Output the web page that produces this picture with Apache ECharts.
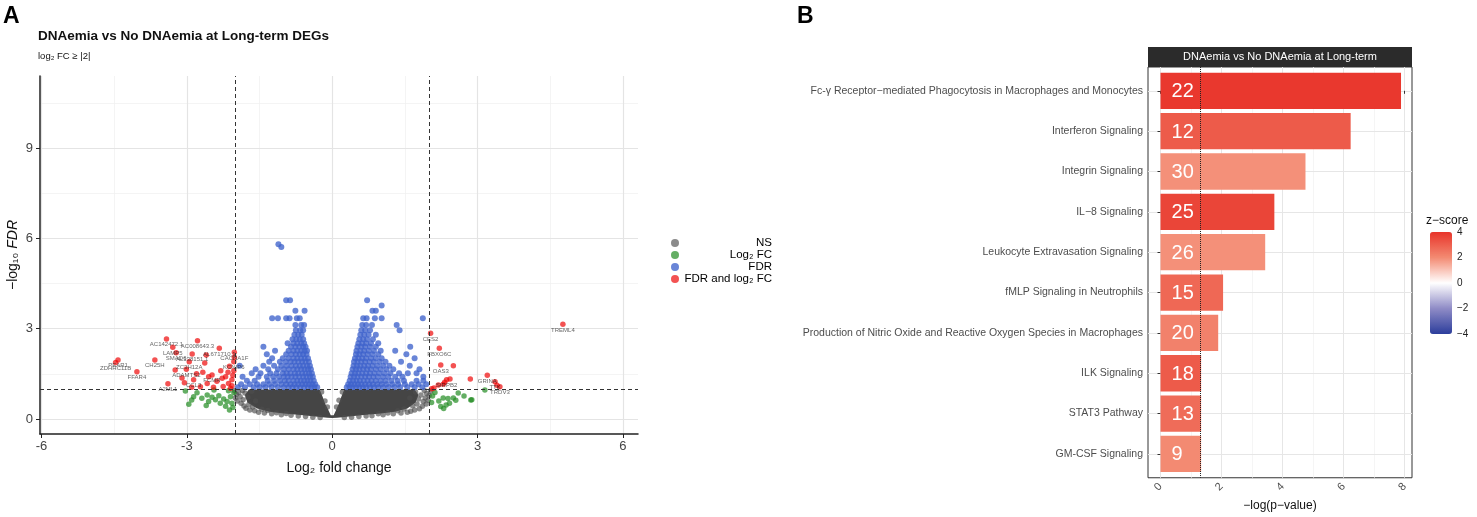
<!DOCTYPE html>
<html lang="en">
<head>
  <meta charset="UTF-8">
  <title>DNAemia volcano + IPA pathways</title>
  <style>
    html, body { margin: 0; padding: 0; background: #fff; }
    #chart { width: 1477px; height: 517px; }
  </style>
  <script src="https://cdn.jsdelivr.net/npm/echarts@6.0.0/dist/echarts.min.js"></script>
</head>
<body>
<div id="chart"></div>
<script>
// ---- panel A : volcano plot ----
const xTicksA = [-6, -3, 0, 3, 6];
const xMinorA = [-4.5, -1.5, 1.5, 4.5];
const yTicksA = [0, 3, 6, 9];
const yMinorA = [1.5, 4.5, 7.5, 10.5];
const fcCut = 2;
const fdrCut = 1;

// outline of the solid mass of non-significant genes
const grayOutline = [
  [-1.72, 0.98], [-0.26, 0.98], [-0.2, 0.75], [-0.15, 0.52], [-0.08, 0.3], [-0.03, 0.12],
  [0.03, 0.12], [0.08, 0.3], [0.14, 0.52], [0.19, 0.75], [0.25, 0.98], [1.7, 0.98],
  [1.78, 0.8], [1.72, 0.55], [1.55, 0.35], [1.3, 0.24], [1.0, 0.18], [0.6, 0.12],
  [0.3, 0.07], [0.1, 0.04], [0, 0.03], [-0.1, 0.04], [-0.3, 0.07], [-0.6, 0.12],
  [-1.0, 0.18], [-1.3, 0.24], [-1.55, 0.35], [-1.75, 0.55], [-1.8, 0.8]
];
// NS points around the edge of that mass
const grayPoints = [
  [-2.02, 0.95], [-1.98, 0.82], [-2.0, 0.7], [-1.96, 0.6], [-1.93, 0.88], [-1.9, 0.74], [-1.88, 0.52],
  [-1.85, 0.95], [-1.84, 0.64], [-1.82, 0.43], [-1.8, 0.86], [-1.78, 0.36], [-1.74, 0.72], [-1.72, 0.48],
  [-1.7, 0.3], [-1.66, 0.92], [-1.64, 0.4], [-1.6, 0.27], [-1.58, 0.6], [-1.52, 0.22], [-1.45, 0.32],
  [-1.4, 0.2], [-1.33, 0.28], [-1.25, 0.17], [-1.15, 0.21], [-1.05, 0.14], [-0.95, 0.18], [-0.85, 0.12],
  [-0.7, 0.1], [-0.55, 0.08], [-0.4, 0.06], [-0.25, 0.05], [-0.22, 0.9], [-0.15, 0.6], [-0.1, 0.4],
  [2.03, 0.92], [2.0, 0.78], [1.98, 0.62], [1.95, 0.85], [1.94, 0.5], [1.92, 0.7], [1.9, 0.95],
  [1.88, 0.58], [1.86, 0.42], [1.83, 0.8], [1.8, 0.34], [1.78, 0.66], [1.75, 0.5], [1.72, 0.9],
  [1.7, 0.3], [1.66, 0.44], [1.62, 0.26], [1.6, 0.7], [1.55, 0.22], [1.48, 0.33], [1.42, 0.2],
  [1.35, 0.27], [1.26, 0.17], [1.15, 0.2], [1.05, 0.14], [0.95, 0.17], [0.82, 0.11], [0.7, 0.1],
  [0.55, 0.08], [0.4, 0.06], [0.25, 0.05], [0.21, 0.9], [0.14, 0.62], [0.09, 0.4]
];
// FDR-only genes, by rows of -log10 FDR
const blueRows = [
  [1.05, [-1.95, -1.8, -1.62, -1.5, -1.38, -1.25, -1.12, -1.0, -0.9, -0.82, -0.74, -0.66, -0.58, -0.5, -0.43, -0.37, -0.31,
          0.3, 0.36, 0.42, 0.49, 0.56, 0.63, 0.7, 0.78, 0.86, 0.95, 1.05, 1.16, 1.28, 1.4, 1.55, 1.7, 1.86]],
  [1.15, [-1.88, -1.7, -1.55, -1.42, -1.3, -1.18, -1.05, -0.95, -0.86, -0.78, -0.7, -0.62, -0.55, -0.48, -0.41, -0.35,
          0.33, 0.39, 0.46, 0.53, 0.6, 0.68, 0.76, 0.84, 0.93, 1.02, 1.12, 1.24, 1.36, 1.5, 1.64, 1.78, 1.94]],
  [1.27, [-1.76, -1.6, -1.33, -1.2, -1.08, -0.98, -0.9, -0.8, -0.72, -0.65, -0.58, -0.51, -0.45, -0.38,
          0.36, 0.43, 0.5, 0.57, 0.65, 0.73, 0.81, 0.9, 1.0, 1.1, 1.22, 1.35, 1.48, 1.74, 1.88]],
  [1.4, [-1.85, -1.52, -1.35, -1.22, -1.1, -1.0, -0.92, -0.84, -0.76, -0.68, -0.6, -0.53, -0.46, -0.4,
         0.38, 0.45, 0.52, 0.6, 0.68, 0.76, 0.85, 0.94, 1.05, 1.16, 1.3, 1.45, 1.88]],
  [1.52, [-1.66, -1.48, -1.28, -1.15, -1.02, -0.94, -0.86, -0.77, -0.7, -0.62, -0.55, -0.48, -0.42,
          0.4, 0.47, 0.54, 0.62, 0.7, 0.78, 0.87, 0.97, 1.08, 1.2, 1.38, 1.56, 1.74]],
  [1.65, [-1.58, -1.32, -1.12, -1.0, -0.9, -0.8, -0.72, -0.64, -0.57, -0.5, -0.44,
          0.42, 0.49, 0.56, 0.64, 0.72, 0.8, 0.9, 1.0, 1.12, 1.26, 1.8]],
  [1.77, [-1.91, -1.42, -1.2, -1.05, -0.94, -0.84, -0.75, -0.67, -0.6, -0.52, -0.46,
          0.44, 0.51, 0.58, 0.66, 0.74, 0.83, 0.93, 1.05, 1.18, 1.6]],
  [1.9, [-1.3, -1.08, -0.96, -0.86, -0.78, -0.7, -0.62, -0.55, -0.48, 0.45, 0.52, 0.6, 0.68, 0.77, 0.86, 0.98, 1.1, 1.42]],
  [2.02, [-1.24, -1.02, -0.9, -0.8, -0.72, -0.64, -0.57, -0.5, 0.47, 0.54, 0.62, 0.7, 0.8, 0.9, 1.02, 1.7]],
  [2.15, [-1.35, -0.95, -0.84, -0.75, -0.67, -0.6, -0.53, 0.49, 0.56, 0.64, 0.73, 0.83, 0.95, 1.53]],
  [2.27, [-1.18, -0.9, -0.8, -0.72, -0.64, -0.57, -0.52, 0.5, 0.58, 0.66, 0.75, 0.86, 1.0, 1.3]],
  [2.4, [-1.42, -0.85, -0.76, -0.68, -0.6, -0.55, 0.52, 0.6, 0.68, 0.78, 0.9, 1.61]],
  [2.52, [-0.92, -0.8, -0.72, -0.64, -0.58, 0.54, 0.62, 0.7, 0.8, 0.95]],
  [2.65, [-0.82, -0.74, -0.67, -0.6, 0.56, 0.64, 0.72, 0.84]],
  [2.8, [-0.78, -0.7, -0.63, 0.58, 0.66, 0.75, 0.9]],
  [2.95, [-0.75, -0.66, -0.6, 0.6, 0.68, 0.78, 1.39]],
  [3.12, [-0.76, -0.64, -0.58, 0.62, 0.7, 0.82, 1.33]],
  [3.35, [-1.24, -1.12, -0.95, -0.88, -0.73, -0.67, 0.64, 0.71, 0.88, 1.02, 1.87]],
  [3.6, [-0.76, -0.57, 0.83, 0.9]],
  [3.77, [1.02]],
  [3.95, [-0.95, -0.87, 0.72]],
  [5.72, [-1.05]],
  [5.81, [-1.11]]
];
// log2 FC-only genes
const greenPoints = [
  [-3.03, 0.93], [-2.96, 0.49], [-2.86, 0.74], [-2.79, 0.87], [-2.69, 0.69], [-2.58, 0.8], [-2.48, 0.72],
  [-2.41, 0.64], [-2.34, 0.77], [-2.24, 0.66], [-2.17, 0.58], [-2.1, 0.74], [-2.07, 0.52], [-2.31, 0.52],
  [-2.9, 0.63], [-2.55, 0.58], [-2.03, 0.88], [-2.14, 0.94], [-2.44, 0.96], [-2.2, 0.42], [-2.05, 0.38],
  [-2.6, 0.45], [-2.12, 0.3],
  [2.24, 0.41], [2.35, 0.46], [2.42, 0.52], [2.5, 0.7], [2.6, 0.86], [2.72, 0.76], [2.86, 0.63],
  [2.88, 0.64], [3.15, 0.96], [2.29, 0.7], [2.07, 0.76], [2.39, 0.68], [2.05, 0.55], [2.12, 0.88],
  [2.2, 0.6], [2.3, 0.35], [2.55, 0.62]
];
// FDR and log2 FC genes, third field = label
const redPoints = [
  [-3.42, 2.66, 'AC142472.1'], [-2.78, 2.6, 'AC008643.3'], [-3.29, 2.38, 'LAMP5'], [-3.22, 2.2, 'SMAD6'],
  [-2.33, 2.35, 'AL671710.1'], [-2.89, 2.16, 'AL138151.1'], [-2.02, 2.22, 'CACNA1F'],
  [-4.42, 1.96, 'PEAR1'], [-4.47, 1.88, 'ZDHHC11B'], [-3.66, 1.96, 'CH25H'], [-4.03, 1.57, 'FFAR4'],
  [-3.39, 1.17, 'A2ML1'], [-2.03, 1.9, 'KCNIP6'], [-2.95, 1.9, 'ZC3H12A'], [-3.01, 1.65, 'ADAMTS2'],
  [-2.86, 1.3, 'CCL3'], [-2.48, 1.46, 'FCMR'],
  [-2.67, 1.55], [-2.27, 1.35], [-2.2, 1.4], [-2.07, 1.3], [-2.03, 1.6], [-2.14, 1.18], [-2.07, 1.1],
  [-2.58, 1.18], [-2.38, 1.25], [-3.1, 1.36], [-2.72, 1.07], [-3.24, 1.63], [-2.63, 1.86], [-2.1, 1.02],
  [-2.25, 1.08], [-2.45, 1.05], [-2.9, 1.05], [-2.05, 1.45], [-2.15, 1.55], [-2.3, 1.6], [-2.55, 1.4],
  [-2.8, 1.5], [-3.05, 1.2], [-2.02, 2.05], [-2.12, 1.75], [-2.6, 2.13],
  [4.76, 3.15, 'TREML4'], [2.03, 2.85, 'CES2'], [2.21, 2.35, 'FBXO6C'], [2.24, 1.79, 'OAS3'],
  [3.2, 1.45, 'GRINA'], [3.36, 1.24, 'TTK'], [3.46, 1.07, 'TRDV3'], [2.36, 1.3, 'SIRPB2'],
  [2.5, 1.77], [2.85, 1.33], [2.43, 1.33], [2.29, 1.15], [2.19, 1.13], [2.1, 1.03], [2.05, 1.0],
  [3.4, 1.12], [2.32, 1.22]
];

// ---- panel B : canonical pathways ----
const pathways = [
  'Fc-γ Receptor−mediated Phagocytosis in Macrophages and Monocytes',
  'Interferon Signaling',
  'Integrin Signaling',
  'IL−8 Signaling',
  'Leukocyte Extravasation Signaling',
  'fMLP Signaling in Neutrophils',
  'Production of Nitric Oxide and Reactive Oxygen Species in Macrophages',
  'ILK Signaling',
  'STAT3 Pathway',
  'GM-CSF Signaling'
];
const logP = [7.88, 6.23, 4.75, 3.73, 3.43, 2.05, 1.89, 1.33, 1.33, 1.33];
const zScores = [3.9, 3.1, 1.9, 3.6, 1.9, 2.8, 2.2, 3.1, 2.7, 2.0];
const geneCounts = [22, 12, 30, 25, 26, 15, 20, 18, 13, 9];
const xTicksB = [0, 2, 4, 6, 8];
const xMinorB = [1, 3, 5, 7];
const pCut = 1.3;
const zTicks = [4, 2, 0, -2, -4];

const FONT = "'Liberation Sans', Arial, sans-serif";

var bluePoints = [];
blueRows.forEach(function (r) { r[1].forEach(function (x) { bluePoints.push([x, r[0]]); }); });

function gridLines(list, key, color, width) {
  return list.map(function (v) {
    var d = { lineStyle: { color: color, width: width, type: 'solid' } };
    d[key] = v;
    return d;
  });
}
var markBase = { silent: true, symbol: ['none', 'none'], label: { show: false }, animation: false };

// colorbar geometry
const cbTop = 232, cbHeight = 102, cbLeft = 1430;

var myChart = echarts.init(document.getElementById('chart'));
var option = {
  animation: false,
  textStyle: { fontFamily: FONT },
  title: [
    { text: 'A', left: 3, top: 5, padding: 0, textStyle: { fontSize: 23, fontWeight: 'bold', color: '#000', fontFamily: FONT } },
    { text: 'DNAemia vs No DNAemia at Long-term DEGs', left: 38, top: 29, padding: 0,
      textStyle: { fontSize: 13.5, fontWeight: 'bold', color: '#111', fontFamily: FONT } },
    { text: 'log₂ FC ≥ |2|', left: 38, top: 51, padding: 0,
      textStyle: { fontSize: 9.5, fontWeight: 'normal', color: '#111', fontFamily: FONT } },
    { text: 'B', left: 797, top: 5, padding: 0, textStyle: { fontSize: 23, fontWeight: 'bold', color: '#000', fontFamily: FONT } }
  ],
  legend: {
    data: ['NS', 'Log₂ FC', 'FDR', 'FDR and log₂ FC'],
    orient: 'vertical',
    left: 671, top: 237,
    padding: 0,
    itemGap: 0,
    itemWidth: 8, itemHeight: 8,
    icon: 'circle',
    selectedMode: false,
    formatter: function (n) { return '{t|' + n + '}'; },
    textStyle: {
      rich: { t: { width: 88, align: 'right', fontSize: 11.5, lineHeight: 11.5, color: '#000', fontFamily: FONT } }
    }
  },
  visualMap: {
    type: 'continuous',
    seriesIndex: 8,
    dimension: 2,
    min: -4, max: 4,
    calculable: false,
    hoverLink: false,
    left: cbLeft, top: cbTop,
    padding: 0,
    itemWidth: 22, itemHeight: cbHeight,
    inRange: { color: ['#2C3E9C', '#8F8BC6', '#FFFFFF', '#F38A72', '#E8342A'] }
  },
  grid: [
    { left: 40, top: 76, width: 598, height: 358, show: false },
    { left: 1148, top: 67, width: 264, height: 415, show: true, borderColor: '#333', borderWidth: 1 }
  ],
  xAxis: [
    {
      gridIndex: 0, type: 'value', min: -6.03, max: 6.31,
      name: 'Log₂ fold change', nameLocation: 'middle', nameGap: 27,
      nameTextStyle: { fontSize: 14, color: '#111', fontFamily: FONT },
      axisLine: { show: true, onZero: false, lineStyle: { color: '#222', width: 1.5 } },
      axisTick: { show: true, length: 4, customValues: xTicksA, lineStyle: { color: '#222' } },
      axisLabel: { customValues: xTicksA, fontSize: 13, color: '#444', margin: 6, fontFamily: FONT },
      splitLine: { show: false }
    },
    {
      gridIndex: 1, type: 'value', min: -0.41, max: 8.24,
      name: '−log(p−value)', nameLocation: 'middle', nameGap: 20,
      nameTextStyle: { fontSize: 12, color: '#111', fontFamily: FONT },
      axisLine: { show: false },
      axisTick: { show: true, length: 3, customValues: xTicksB, lineStyle: { color: '#333' } },
      axisLabel: { customValues: xTicksB, rotate: 45, fontSize: 11, color: '#4D4D4D', margin: 7, fontFamily: FONT },
      splitLine: { show: false }
    }
  ],
  yAxis: [
    {
      gridIndex: 0, type: 'value', min: -0.5, max: 11.4,
      name: '{n|−log₁₀ }{i|FDR}', nameLocation: 'middle', nameGap: 20,
      nameTextStyle: {
        rich: {
          n: { fontSize: 14, color: '#111', fontFamily: FONT },
          i: { fontSize: 14, color: '#111', fontStyle: 'italic', fontFamily: FONT }
        }
      },
      axisLine: { show: true, onZero: false, lineStyle: { color: '#222', width: 1.5 } },
      axisTick: { show: true, length: 4, customValues: yTicksA, lineStyle: { color: '#222' } },
      axisLabel: { customValues: yTicksA, fontSize: 13, color: '#444', margin: 7, fontFamily: FONT },
      splitLine: { show: false }
    },
    {
      gridIndex: 1, type: 'value', min: -0.59, max: 9.59, inverse: true,
      axisLine: { show: false },
      axisTick: { show: true, length: 3, customValues: pathways.map(function (p, i) { return i; }), lineStyle: { color: '#333' } },
      axisLabel: {
        customValues: pathways.map(function (p, i) { return i; }),
        formatter: function (v) { return pathways[Math.round(v)] || ''; },
        fontSize: 10.5, color: '#4D4D4D', margin: 5, fontFamily: FONT
      },
      splitLine: { show: false }
    }
  ],
  graphic: [
    { type: 'rect', left: 1148, top: 47, shape: { width: 264, height: 20 }, style: { fill: '#2B2B2B' }, silent: true },
    { type: 'text', x: 1280, y: 57, style: { text: 'DNAemia vs No DNAemia at Long-term', fill: '#fff', fontSize: 11,
      fontFamily: FONT, align: 'center', verticalAlign: 'middle' }, silent: true },
    { type: 'text', x: 1426, y: 221, style: { text: 'z−score', fill: '#111', fontSize: 12, fontFamily: FONT,
      align: 'left', verticalAlign: 'middle' }, silent: true }
  ].concat(zTicks.map(function (z) {
    return { type: 'text', x: cbLeft + 27, y: cbTop + (4 - z) / 8 * cbHeight,
      style: { text: z < 0 ? '−' + (-z) : String(z), fill: '#222', fontSize: 10, fontFamily: FONT, align: 'left', verticalAlign: 'middle' },
      silent: true };
  })),
  series: [
    // 0: panel A grid
    {
      type: 'scatter', xAxisIndex: 0, yAxisIndex: 0, data: [], silent: true,
      markLine: Object.assign({ z: 0, data: [].concat(
        gridLines(xMinorA, 'xAxis', '#F1F1F1', 0.8), gridLines(yMinorA, 'yAxis', '#F1F1F1', 0.8),
        gridLines(xTicksA, 'xAxis', '#E4E4E4', 1.2), gridLines(yTicksA, 'yAxis', '#E4E4E4', 1.2)) }, markBase)
    },
    // 1: dense NS mass
    {
      type: 'custom', xAxisIndex: 0, yAxisIndex: 0, data: grayOutline, silent: true, z: 2,
      renderItem: function (params, api) {
        if (params.dataIndex !== 0) return;
        return { type: 'polygon', shape: { points: grayOutline.map(function (p) { return api.coord(p); }) },
          style: { fill: '#454545' } };
      }
    },
    {
      name: 'NS', type: 'scatter', xAxisIndex: 0, yAxisIndex: 0, data: grayPoints, symbolSize: 5.5, z: 2,
      itemStyle: { color: '#4D4D4D', opacity: 0.65 }
    },
    {
      name: 'Log₂ FC', type: 'scatter', xAxisIndex: 0, yAxisIndex: 0, data: greenPoints, symbolSize: 5.5, z: 2,
      itemStyle: { color: '#228B22', opacity: 0.7 }
    },
    {
      name: 'FDR', type: 'scatter', xAxisIndex: 0, yAxisIndex: 0, data: bluePoints, symbolSize: 6, z: 2,
      itemStyle: { color: '#3F63CC', opacity: 0.78 }
    },
    {
      name: 'FDR and log₂ FC', type: 'scatter', xAxisIndex: 0, yAxisIndex: 0, data: redPoints, symbolSize: 5.5, z: 3,
      itemStyle: { color: '#EE0000', opacity: 0.68 },
      label: {
        show: true, position: 'bottom', distance: 0,
        formatter: function (p) { return p.data[2] || ''; },
        fontSize: 6, color: '#111', fontFamily: FONT
      },
      labelLayout: { hideOverlap: false }
    },
    // 6: cut-off lines
    {
      type: 'scatter', xAxisIndex: 0, yAxisIndex: 0, data: [], silent: true,
      markLine: Object.assign({ z: 6, lineStyle: { type: [4, 3], color: '#333', width: 1 },
        data: [{ xAxis: -fcCut }, { xAxis: fcCut }, { yAxis: fdrCut }] }, markBase)
    },
    // 7: panel B grid
    {
      type: 'scatter', xAxisIndex: 1, yAxisIndex: 1, data: [], silent: true,
      markLine: Object.assign({ z: 0, data: [].concat(
        gridLines(xMinorB, 'xAxis', '#F3F3F3', 0.8),
        gridLines(xTicksB, 'xAxis', '#E6E6E6', 1),
        gridLines(pathways.map(function (p, i) { return i; }), 'yAxis', '#E6E6E6', 1)) }, markBase)
    },
    // 8: bars
    {
      type: 'custom', xAxisIndex: 1, yAxisIndex: 1, z: 2,
      encode: { x: 0, y: 1 },
      data: pathways.map(function (p, i) { return [logP[i], i, zScores[i], geneCounts[i]]; }),
      renderItem: function (params, api) {
        var i = api.value(1), v = api.value(0);
        var a = api.coord([0, i]), b = api.coord([v, i]);
        var h = api.size([0, 0.9])[1];
        return {
          type: 'group',
          children: [
            { type: 'rect', shape: { x: a[0], y: a[1] - h / 2, width: b[0] - a[0], height: h },
              style: { fill: api.visual('color') } },
            { type: 'text', style: { text: String(api.value(3)), x: a[0] + 11, y: a[1] + 1, align: 'left',
              verticalAlign: 'middle', fill: '#fff', fontSize: 20, fontFamily: FONT } }
          ]
        };
      }
    },
    // 9: significance threshold
    {
      type: 'scatter', xAxisIndex: 1, yAxisIndex: 1, data: [], silent: true,
      markLine: Object.assign({ z: 6, lineStyle: { type: 'dotted', color: '#222', width: 1 },
        data: [{ xAxis: pCut }] }, markBase)
    }
  ]
};
myChart.setOption(option);
</script>
</body>
</html>
